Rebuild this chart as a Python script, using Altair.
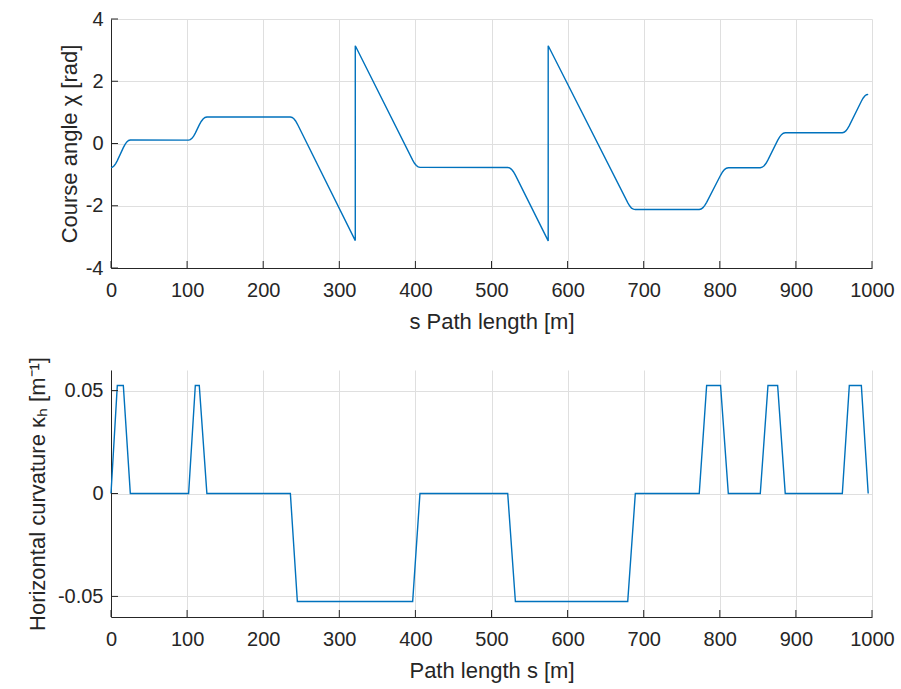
import altair as alt
import pandas as pd

# ---- data ----
chi_s = [
    0, 2, 4.15, 6.2, 8.3, 16.2, 18.5, 20.8, 23.1, 25.4,
    102, 104.2, 106.4, 108.6, 110.8, 116, 118.5, 121, 123.5, 126,
    235.7, 238, 240.3, 242.6, 244.9, 321, 321,
    396.4, 398.8, 401.2, 403.6, 406,
    521.3, 523.8, 526.3, 528.8, 531.4, 574.5, 574.5,
    679, 681.5, 684, 686.5, 689,
    773, 775.4, 777.85, 780.3, 782.7, 801, 803.55, 806.1, 808.65, 811.2,
    853.2, 855.7, 858.25, 860.8, 863.3, 876, 878.5, 881, 883.5, 886,
    961, 963.3, 965.6, 967.9, 970.2, 986, 988.25, 990.5, 992.75, 995,
]
chi_v = [
    -0.77, -0.757, -0.715, -0.648, -0.55, -0.132, -0.026, 0.050, 0.096, 0.111,
    0.11, 0.124, 0.166, 0.236, 0.333, 0.597, 0.708, 0.787, 0.835, 0.85,
    0.85, 0.836, 0.794, 0.723, 0.625, -3.12, 3.14,
    -0.532, -0.634, -0.707, -0.751, -0.766,
    -0.77, -0.785, -0.831, -0.906, -1.018, -3.13, 3.14,
    -1.897, -2.002, -2.078, -2.11, -2.12,
    -2.12, -2.106, -2.061, -1.990, -1.890, -1.021, -0.915, -0.839, -0.794, -0.779,
    -0.777, -0.762, -0.715, -0.636, -0.528, 0.099, 0.207, 0.284, 0.331, 0.346,
    0.347, 0.361, 0.404, 0.475, 0.575, 1.357, 1.455, 1.524, 1.566, 1.58,
]

kap_s = [0, 8.3, 16.2, 25.4, 102, 110.8, 116, 126, 235.7, 244.9, 396.4, 406,
         521.3, 531.4, 679, 689, 773, 782.7, 801, 811.2, 853.2, 863.3, 876, 886,
         961, 970.2, 986, 995]
kap_v = [0, 0.0525, 0.0525, 0, 0, 0.0525, 0.0525, 0, 0, -0.0525, -0.0525, 0,
         0, -0.0525, -0.0525, 0, 0, 0.0525, 0.0525, 0, 0, 0.0525, 0.0525, 0,
         0, 0.0525, 0.0525, 0]

x_ticks = [0, 100, 200, 300, 400, 500, 600, 700, 800, 900, 1000]
chi_ticks = [-4, -2, 0, 2, 4]
kap_ticks = [-0.05, 0, 0.05]

# ---- style ----
FONT = "Liberation Sans"
TXT = "#262626"
BLUE = "#0072BD"
W = 761
H1 = 249
H2 = 247
TICK = 7
HYPHEN = "replace(datum.label, '\u2212', '-')"

df_chi = pd.DataFrame({"s": chi_s, "v": chi_v, "i": range(len(chi_s))})
df_kap = pd.DataFrame({"s": kap_s, "v": kap_v, "i": range(len(kap_s))})

xscale = alt.Scale(domain=[0, 1000], nice=False, zero=False)


def panel(df, ydomain, yticks, ytitle, xtitle, h, yfmt, ytpad):
    yscale = alt.Scale(domain=ydomain, nice=False, zero=False)
    xaxis = alt.Axis(values=x_ticks, title=xtitle, format="d", labelFlush=False)
    yaxis = alt.Axis(values=yticks, title=ytitle, format=yfmt, labelFlush=False,
                     labelExpr=HYPHEN, titlePadding=ytpad)
    line = alt.Chart(df).mark_line(color=BLUE, strokeWidth=1.4).encode(
        x=alt.X("s:Q", scale=xscale, axis=xaxis, title=xtitle),
        y=alt.Y("v:Q", scale=yscale, axis=yaxis, title=ytitle),
        order="i:Q",
    )
    xt = alt.Chart(pd.DataFrame({"s": x_ticks})).mark_rule(color=TXT, strokeWidth=1).encode(
        x=alt.X("s:Q", scale=xscale, axis=xaxis, title=xtitle),
        y=alt.value(h),
        y2=alt.value(h - TICK),
    )
    yt = alt.Chart(pd.DataFrame({"v": yticks})).mark_rule(color=TXT, strokeWidth=1).encode(
        y=alt.Y("v:Q", scale=yscale, axis=yaxis, title=ytitle),
        x=alt.value(0),
        x2=alt.value(TICK),
    )
    return alt.layer(line, xt, yt).properties(width=W, height=h)


top = panel(df_chi, [-4, 4], chi_ticks, "Course angle χ [rad]",
            "s Path length [m]", H1, "d", 4)
bottom = panel(df_kap, [-0.06, 0.06], kap_ticks,
               "Horizontal curvature κₕ [m⁻¹]", "Path length s [m]", H2, "", 8)

chart = alt.vconcat(top, bottom, spacing=102, bounds="flush").properties(
    padding={"left": 26, "top": 9, "right": 5, "bottom": 5},
    background="white",
).configure_view(stroke=None).configure_axis(
    labelFont=FONT, titleFont=FONT,
    labelFontSize=20, titleFontSize=22,
    labelColor=TXT, titleColor=TXT,
    titleFontWeight="normal",
    domainColor=TXT, domainWidth=1,
    tickSize=0, ticks=False,
    gridColor="#dfdfdf", gridWidth=1,
    labelOverlap=False,
).configure_axisX(
    labelPadding=12, titlePadding=11,
).configure_axisY(
    labelPadding=8,
)

chart.save("out.html", embed_options={"renderer": "svg", "actions": False})
